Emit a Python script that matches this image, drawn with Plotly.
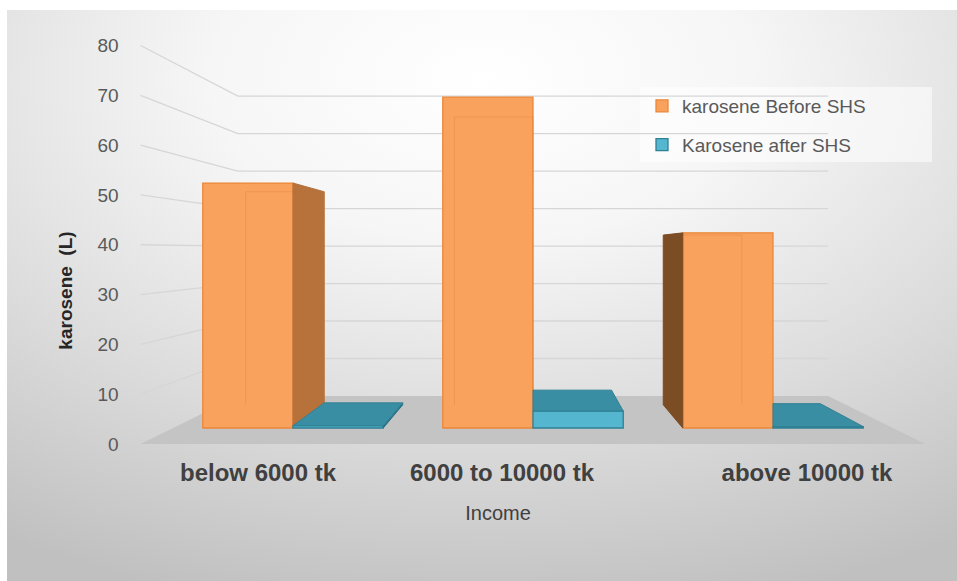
import base64
import plotly.graph_objects as go

# ---- data -----------------------------------------------------------------
categories = ["below 6000 tk", "6000 to 10000 tk", "above 10000 tk"]
series_names = ["karosene Before SHS", "Karosene after SHS"]
before_shs = [53.6, 72.4, 42.7]
after_shs = [0.5, 3.7, 0.3]
y_ticks = [0, 10, 20, 30, 40, 50, 60, 70, 80]

# ---- page / perspective geometry (pixels) ----------------------------------
W, H = 957, 581
CAT_PX = 240.0          # spacing between category centres on the bar plane
CAT0_PX = 293.0         # x of the first category centre
VAL_PX = 4.57           # pixels per value unit on the bar plane
BASE_PX = 428.0         # y of value 0 on the bar plane
VP_PX = (533.0, 250.0)  # vanishing point
BAR_W = 0.376           # bar width in category units
S_BACK = 0.87           # scale of a bar's back face
S_FLOOR_FRONT = 1.09    # scale of the front edge of floor / walls
S_WALL = 0.82           # scale of the back wall
X_LO, X_HI = -0.5, 2.5  # floor extent in category units
X_DOMAIN = [0.041, 1.0]
LABEL_PX = [258, 502, 807]  # centres of the category labels

# vanishing point in axis units
VU = (VP_PX[0] - CAT0_PX) / CAT_PX
VV = (BASE_PX - VP_PX[1]) / VAL_PX


def proj(u, v, s):
    """Move a bar-plane point (u, v) to depth with scale s."""
    return VU + (u - VU) * s, VV + (v - VV) * s


def px_to_u(px):
    return (px - CAT0_PX) / CAT_PX


x_range = [px_to_u(X_DOMAIN[0] * W), px_to_u(W)]
y_range = [(BASE_PX - H) / VAL_PX, BASE_PX / VAL_PX]


def tick_value_at(py):
    # value on the front wall edge (scale S_FLOOR_FRONT) found at pixel row py
    return (BASE_PX - VP_PX[1] - (py - VP_PX[1]) / S_FLOOR_FRONT) / VAL_PX


y2_range = [tick_value_at(H), tick_value_at(0)]
wall_front_px = VP_PX[0] + (CAT0_PX + X_LO * CAT_PX - VP_PX[0]) * S_FLOOR_FRONT


def clip_x(pts, c, keep_right):
    """Clip a polygon against the vertical line x = c."""
    inside = (lambda p: p[0] >= c) if keep_right else (lambda p: p[0] <= c)
    out = []
    n = len(pts)
    for j in range(n):
        p, q = pts[j], pts[(j + 1) % n]
        if inside(p):
            out.append(p)
        if inside(p) != inside(q):
            t = (c - p[0]) / (q[0] - p[0])
            out.append((c, p[1] + t * (q[1] - p[1])))
    return out


# ---- colours ----------------------------------------------------------------
ORANGE_FRONT = "#F9A25E"
ORANGE_EDGE = "#EC8738"
ORANGE_SIDE_R = "#B7723B"
ORANGE_SIDE_L = "#7C4C25"
BLUE_FRONT = "#55B6CF"
BLUE_TOP = "#3A8EA3"
BLUE_EDGE = "#2F8094"
BLUE_SIDE = "#2C7386"
GRID = "#D6D6D6"
FLOOR = "#C4C4C4"

fig = go.Figure()

# front faces of the columns
series = [before_shs, after_shs]
fronts = [ORANGE_FRONT, BLUE_FRONT]
edges = [ORANGE_EDGE, BLUE_EDGE]
for k in range(2):
    offs = -BAR_W if k == 0 else 0.0
    fig.add_trace(go.Bar(
        x=[i + offs + BAR_W / 2 for i in range(len(categories))],
        y=series[k], base=0, width=BAR_W,
        name=series_names[k], legendgroup=series_names[k],
        marker=dict(color=fronts[k], line=dict(color=edges[k], width=1.3)),
        hoverinfo="skip",
    ))

# faint hidden back edges seen through the orange columns
ex, ey = [], []
for i, v in enumerate(before_shs):
    u0, u1 = i - BAR_W, i
    for u in (u0, u1):
        a = proj(u, after_shs[i] if u == u1 else 0, S_BACK)
        b = proj(u, v, S_BACK)
        ex += [a[0], b[0], None]
        ey += [a[1], b[1], None]
    a = proj(u0, v, S_BACK)
    b = proj(u1, v, S_BACK)
    ex += [a[0], b[0], None]
    ey += [a[1], b[1], None]
fig.add_trace(go.Scatter(x=ex, y=ey, mode="lines", showlegend=False, hoverinfo="skip",
                         line=dict(color="rgba(215,110,35,0.25)", width=1)))


def add_face(pts, fill, line):
    if len(pts) < 3:
        return
    xs = [p[0] for p in pts] + [pts[0][0]]
    ys = [p[1] for p in pts] + [pts[0][1]]
    fig.add_trace(go.Scatter(x=xs, y=ys, mode="lines", fill="toself", fillcolor=fill,
                             line=dict(color=line, width=1), showlegend=False,
                             hoverinfo="skip"))


eps = 1e-6
for i in range(len(categories)):
    bars = [(i - BAR_W, i, before_shs[i]), (i, i + BAR_W, after_shs[i])]
    for k, (u0, u1, v) in enumerate(bars):
        # visible side face
        if u1 < VU - eps:
            u = u1
            lo = bars[k + 1][2] if k + 1 < len(bars) else 0.0
            side_col = ORANGE_SIDE_R if k == 0 else BLUE_SIDE
        elif u0 > VU + eps:
            u = u0
            lo = bars[k - 1][2] if k > 0 else 0.0
            side_col = ORANGE_SIDE_L if k == 0 else BLUE_SIDE
        else:
            u = None
        if u is not None and v > lo:
            add_face([(u, lo), (u, v), proj(u, v, S_BACK), proj(u, lo, S_BACK)],
                     side_col, side_col)
        # visible top face (below eye level), hidden where a taller neighbour stands
        if v < VV:
            top = [(u0, v), (u1, v), proj(u1, v, S_BACK), proj(u0, v, S_BACK)]
            if k > 0 and bars[k - 1][2] > v:
                top = clip_x(top, u0, keep_right=True)
            if k + 1 < len(bars) and bars[k + 1][2] > v:
                top = clip_x(top, u1, keep_right=False)
            top_col = BLUE_TOP if k == 1 else ORANGE_SIDE_R
            add_face(top, top_col, BLUE_EDGE if k == 1 else ORANGE_EDGE)

# ---- walls, gridlines and floor (drawn beneath the columns) -----------------
shapes = []


def path_of(pts, close=False):
    s = "M " + " L ".join(f"{x:.5f},{y:.5f}" for x, y in pts)
    return s + (" Z" if close else "")


for t in y_ticks[1:]:
    a = proj(X_LO, t, S_FLOOR_FRONT)
    b = proj(X_LO, t, S_WALL)
    c = proj(X_HI, t, S_WALL)
    shapes.append(dict(type="path", xref="x", yref="y", layer="below",
                       path=path_of([a, b, c]), line=dict(color=GRID, width=1.3)))

floor_pts = [proj(X_LO, 0, S_FLOOR_FRONT), proj(X_HI, 0, S_FLOOR_FRONT),
             proj(X_HI, 0, S_WALL), proj(X_LO, 0, S_WALL)]
shapes.append(dict(type="path", xref="x", yref="y", layer="below",
                   path=path_of(floor_pts, close=True), fillcolor=FLOOR,
                   line=dict(width=0)))

# legend panel
shapes.append(dict(type="rect", xref="paper", yref="paper", layer="below",
                   x0=640 / W, x1=932 / W, y0=1 - 162 / H, y1=1 - 87 / H,
                   fillcolor="rgba(255,255,255,0.55)", line=dict(width=0)))

# soft radial background of the chart area
bg_svg = (
    "<svg xmlns='http://www.w3.org/2000/svg' width='950' height='571'>"
    "<defs><radialGradient id='g' cx='0.5' cy='0.12' r='0.95' fx='0.5' fy='0.12'>"
    "<stop offset='0' stop-color='#ffffff'/>"
    "<stop offset='0.3' stop-color='#f6f6f6'/>"
    "<stop offset='0.65' stop-color='#dcdcdc'/>"
    "<stop offset='1' stop-color='#c0c0c0'/>"
    "</radialGradient></defs>"
    "<rect width='950' height='571' fill='url(#g)'/></svg>"
)
bg_uri = "data:image/svg+xml;base64," + base64.b64encode(bg_svg.encode()).decode()

FONT = "Liberation Sans, Arial, sans-serif"

fig.update_layout(
    width=W, height=H,
    margin=dict(l=0, r=0, t=0, b=0),
    paper_bgcolor="white",
    plot_bgcolor="rgba(0,0,0,0)",
    barmode="overlay",
    shapes=shapes,
    images=[dict(source=bg_uri, xref="paper", yref="paper", x=7 / W, y=1 - 10 / H,
                 sizex=(W - 7) / W, sizey=(H - 10) / H, sizing="stretch",
                 xanchor="left", yanchor="top", layer="below")],
    font=dict(family=FONT, color="#595959"),
    xaxis=dict(
        domain=X_DOMAIN, range=x_range, anchor="free", position=1 - 452 / H,
        showgrid=False, zeroline=False, showline=False, ticks="",
        tickvals=[px_to_u(p) for p in LABEL_PX], ticktext=categories,
        tickfont=dict(size=24, color="#404040", family=FONT, weight="bold"),
        ticklabelstandoff=4,
        title=dict(text="Income", font=dict(size=20, color="#404040"), standoff=20),
        fixedrange=True,
    ),
    yaxis=dict(domain=[0, 1], range=y_range, visible=False, fixedrange=True),
    yaxis2=dict(
        overlaying="y", anchor="free", position=wall_front_px / W, side="left",
        range=y2_range, tickvals=y_ticks, showgrid=False, zeroline=False,
        showline=False, ticks="", ticklabelstandoff=22,
        tickfont=dict(size=19, color="#595959"),
        title=dict(text="karosene  (L)", standoff=18,
                   font=dict(size=19, color="#262626", weight="bold")),
        fixedrange=True,
    ),
    legend=dict(x=642 / W, y=1 - 87 / H, xanchor="left", yanchor="top",
                bgcolor="rgba(0,0,0,0)", font=dict(size=19, color="#595959"),
                tracegroupgap=11, traceorder="grouped"),
    showlegend=True,
)

# an invisible trace keeps the tick-label axis alive
fig.add_trace(go.Scatter(x=[x_range[0]], y=[0], yaxis="y2", mode="markers",
                         marker=dict(opacity=0), showlegend=False, hoverinfo="skip"))

fig.write_html("out.html")
